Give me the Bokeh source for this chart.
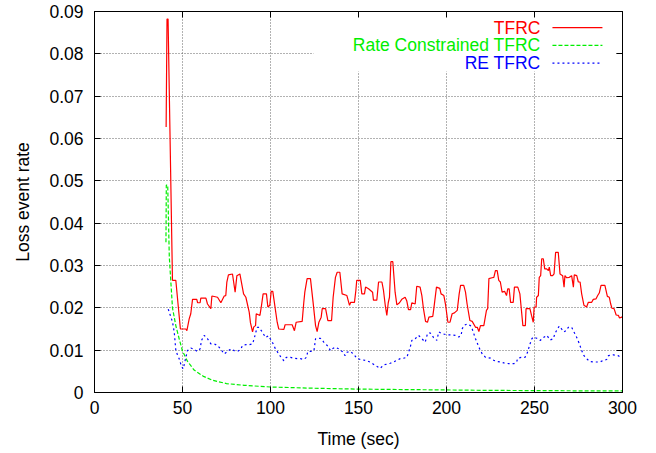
from bokeh.plotting import figure
from bokeh.models import (Range1d, FixedTicker, LinearAxis, Label, BoxAnnotation,
                          CustomJSTickFormatter, ColumnDataSource)
from bokeh.embed import file_html
from bokeh.resources import INLINE

# ---------------- data ----------------
tfrc_t = [40.7, 41.2, 41.8, 44.3, 46.2, 48.8, 51.9, 52.5, 53.8, 54.7, 55.7, 58.1, 58.6, 60.0, 60.4,
          63.3, 64.2, 66.1, 66.7, 69.9, 71.8, 73.7, 74.6, 75.2, 76.1, 78.4, 79.9, 80.9, 82.6, 84.7,
          86.0, 87.9, 88.6, 89.8, 90.5, 91.5, 91.9, 94.0, 94.9, 95.8, 97.7, 98.5, 99.6, 100.4, 101.3,
          103.8, 104.7, 107.6, 108.3, 112.3, 113.6, 114.6, 118.0, 118.9, 119.5, 120.8, 122.7, 124.2,
          125.6, 126.5, 127.5, 128.8, 129.4, 131.3, 132.6, 134.7, 135.6, 136.9, 137.9, 139.4, 140.7,
          143.4, 144.9, 145.6, 147.7, 148.5, 149.0, 151.0, 151.9, 153.4, 154.0, 155.7, 158.0, 158.5,
          160.4, 161.4, 163.3, 164.2, 165.2, 166.1, 166.9, 167.6, 168.4, 169.5, 170.8, 171.8, 173.3,
          174.6, 176.5, 177.4, 178.4, 179.6, 180.3, 182.2, 183.1, 185.0, 186.0, 186.9, 188.1, 189.2,
          190.0, 192.2, 192.8, 194.3, 196.2, 196.9, 198.5, 199.4, 200.8, 202.0, 203.2, 204.5, 206.1,
          207.2, 208.0, 209.8, 210.8, 211.7, 213.3, 214.6, 216.5, 217.5, 218.4, 219.3, 221.2, 222.7,
          223.4, 224.1, 225.9, 226.9, 227.8, 228.8, 229.7, 230.6, 231.6, 233.0, 234.1, 234.8, 235.6,
          236.4, 237.9, 238.6, 240.5, 241.7, 242.4, 243.4, 244.8, 245.2, 247.4, 248.3, 249.3, 249.8,
          250.9, 251.2, 252.2, 252.7, 253.5, 254.1, 255.0, 255.8, 256.9, 257.9, 258.4, 259.2, 260.3,
          261.1, 262.0, 263.5, 264.5, 266.0, 266.8, 267.3, 268.3, 269.8, 271.1, 272.1, 272.6, 274.0,
          274.9, 275.9, 276.8, 278.1, 279.6, 280.6, 282.5, 283.4, 284.9, 285.9, 286.8, 287.8, 290.0,
          291.4, 292.5, 293.3, 294.0, 295.2, 296.4, 297.7, 298.3, 299.6, 300.0]
tfrc_v = [0.0627, 0.0882, 0.0882, 0.0265, 0.0265, 0.0150, 0.0150, 0.0146, 0.0174, 0.0186, 0.0220,
          0.0220, 0.0212, 0.0212, 0.0223, 0.0223, 0.0209, 0.0198, 0.0228, 0.0225, 0.0212, 0.0228,
          0.0229, 0.0261, 0.0278, 0.0280, 0.0237, 0.0276, 0.0280, 0.0233, 0.0225, 0.0190, 0.0165,
          0.0143, 0.0155, 0.0158, 0.0186, 0.0182, 0.0206, 0.0233, 0.0233, 0.0202, 0.0206, 0.0239,
          0.0239, 0.0166, 0.0150, 0.0149, 0.0160, 0.0160, 0.0146, 0.0166, 0.0168, 0.0212, 0.0237,
          0.0269, 0.0269, 0.0213, 0.0158, 0.0144, 0.0166, 0.0178, 0.0198, 0.0198, 0.0170, 0.0170,
          0.0225, 0.0272, 0.0284, 0.0284, 0.0233, 0.0229, 0.0206, 0.0213, 0.0213, 0.0241, 0.0265,
          0.0265, 0.0233, 0.0233, 0.0249, 0.0245, 0.0237, 0.0218, 0.0218, 0.0261, 0.0261, 0.0241,
          0.0206, 0.0182, 0.0212, 0.0225, 0.0309, 0.0309, 0.0237, 0.0207, 0.0212, 0.0220, 0.0225,
          0.0217, 0.0196, 0.0196, 0.0212, 0.0209, 0.0251, 0.0249, 0.0229, 0.0198, 0.0168, 0.0166,
          0.0178, 0.0180, 0.0198, 0.0249, 0.0246, 0.0233, 0.0229, 0.0209, 0.0166, 0.0166, 0.0186,
          0.0188, 0.0194, 0.0233, 0.0253, 0.0253, 0.0237, 0.0209, 0.0170, 0.0168, 0.0154, 0.0154,
          0.0144, 0.0158, 0.0158, 0.0194, 0.0198, 0.0269, 0.0271, 0.0272, 0.0288, 0.0288, 0.0265,
          0.0261, 0.0237, 0.0239, 0.0229, 0.0245, 0.0245, 0.0213, 0.0213, 0.0249, 0.0249, 0.0233,
          0.0202, 0.0158, 0.0158, 0.0198, 0.0198, 0.0182, 0.0166, 0.0202, 0.0202, 0.0225, 0.0229,
          0.0272, 0.0276, 0.0316, 0.0316, 0.0292, 0.0292, 0.0288, 0.0296, 0.0276, 0.0276, 0.0280,
          0.0331, 0.0331, 0.0280, 0.0276, 0.0249, 0.0276, 0.0271, 0.0272, 0.0276, 0.0249, 0.0278,
          0.0276, 0.0261, 0.0261, 0.0233, 0.0206, 0.0202, 0.0213, 0.0213, 0.0220, 0.0221, 0.0229,
          0.0235, 0.0253, 0.0253, 0.0227, 0.0225, 0.0209, 0.0199, 0.0198, 0.0183, 0.0182, 0.0176,
          0.0178, 0.0180]

rc_t = [40.6, 40.8, 41.6, 42.5, 43.4, 44.3, 46.2, 48.1, 50.0, 52.8, 56.6, 62.0, 67.0, 75.0, 85.0,
        100.0, 125.0, 150.0, 175.0, 200.0, 225.0, 250.0, 275.0, 300.0]
rc_v = [0.0355, 0.0490, 0.0490, 0.0320, 0.0260, 0.0200, 0.0158, 0.0127, 0.0098, 0.0074, 0.0053,
        0.0038, 0.0029, 0.0021, 0.0017, 0.0013, 0.0010, 0.0008, 0.0007, 0.0006, 0.0005, 0.00045,
        0.0004, 0.00037]

re_t = [41.9, 44.3, 45.3, 46.2, 47.2, 48.1, 49.4, 50.4, 51.3, 52.8, 54.7, 56.6, 58.5, 60.0, 60.8,
        62.3, 64.2, 66.1, 68.0, 69.9, 71.8, 73.7, 75.6, 77.5, 79.4, 81.3, 83.1, 84.1, 86.0, 87.9,
        89.8, 90.7, 91.7, 92.5, 93.4, 95.3, 97.2, 98.8, 100.4, 101.5, 102.8, 104.7, 106.0, 107.6,
        109.0, 111.4, 113.3, 115.2, 117.0, 118.9, 120.4, 121.2, 123.7, 124.7, 125.6, 128.4, 130.3,
        132.2, 134.1, 135.0, 136.9, 138.8, 140.7, 142.4, 143.4, 145.3, 147.2, 149.0, 151.0, 153.8,
        156.6, 159.5, 162.3, 164.2, 166.1, 168.0, 169.9, 171.8, 173.7, 175.6, 177.5, 178.4, 179.4,
        180.3, 182.2, 184.1, 186.0, 187.9, 189.2, 190.7, 192.6, 193.5, 194.5, 195.6, 197.5, 200.4,
        202.3, 205.1, 207.0, 208.3, 208.9, 209.8, 211.7, 213.6, 214.6, 216.5, 218.4, 220.3, 222.2,
        225.0, 226.9, 228.8, 230.7, 232.6, 235.4, 238.3, 239.8, 240.5, 242.4, 244.6, 245.7, 246.6,
        247.5, 248.5, 249.4, 251.3, 253.2, 255.1, 257.0, 258.9, 260.7, 261.6, 263.0, 264.1, 265.4,
        266.7, 268.3, 269.2, 271.1, 272.4, 274.0, 275.5, 276.8, 278.1, 279.6, 281.5, 284.4, 287.2,
        289.1, 291.0, 292.0, 294.8, 297.6, 299.6]
re_v = [0.0197, 0.0167, 0.0143, 0.0100, 0.0088, 0.0080, 0.0062, 0.0056, 0.0072, 0.0099, 0.0105,
        0.0102, 0.0097, 0.0103, 0.0123, 0.0135, 0.0127, 0.0115, 0.0115, 0.0111, 0.0102, 0.0091,
        0.0097, 0.0103, 0.0099, 0.0097, 0.0102, 0.0111, 0.0113, 0.0113, 0.0115, 0.0127, 0.0143,
        0.0154, 0.0154, 0.0143, 0.0130, 0.0134, 0.0123, 0.0115, 0.0103, 0.0091, 0.0083, 0.0075,
        0.0083, 0.0083, 0.0081, 0.0080, 0.0080, 0.0078, 0.0083, 0.0097, 0.0097, 0.0099, 0.0127,
        0.0128, 0.0119, 0.0111, 0.0099, 0.0103, 0.0107, 0.0103, 0.0097, 0.0087, 0.0095, 0.0097,
        0.0091, 0.0081, 0.0078, 0.0076, 0.0072, 0.0064, 0.0057, 0.0065, 0.0067, 0.0069, 0.0072,
        0.0076, 0.0080, 0.0081, 0.0083, 0.0095, 0.0107, 0.0123, 0.0127, 0.0135, 0.0127, 0.0119,
        0.0139, 0.0141, 0.0130, 0.0127, 0.0123, 0.0143, 0.0139, 0.0136, 0.0136, 0.0135, 0.0131,
        0.0135, 0.0150, 0.0158, 0.0162, 0.0158, 0.0150, 0.0127, 0.0107, 0.0091, 0.0083, 0.0081,
        0.0076, 0.0073, 0.0072, 0.0070, 0.0068, 0.0068, 0.0072, 0.0081, 0.0083, 0.0083, 0.0091,
        0.0103, 0.0115, 0.0127, 0.0131, 0.0128, 0.0123, 0.0130, 0.0135, 0.0124, 0.0127, 0.0139,
        0.0150, 0.0157, 0.0150, 0.0143, 0.0147, 0.0154, 0.0154, 0.0143, 0.0130, 0.0115, 0.0099,
        0.0087, 0.0080, 0.0073, 0.0072, 0.0072, 0.0076, 0.0078, 0.0087, 0.0089, 0.0087, 0.0081]

series_names = ["TFRC", "Rate Constrained TFRC", "RE TFRC"]
x_ticks = [0, 50, 100, 150, 200, 250, 300]
y_ticks = [0, 0.01, 0.02, 0.03, 0.04, 0.05, 0.06, 0.07, 0.08, 0.09]

# ---------------- styling ----------------
FONT = "Liberation Sans"
FS = "17.5px"
colors = ["#ff0000", "#00ee00", "#0000ff"]
dashes = ["solid", "4 2", "2 3"]

p = figure(width=656, height=453, output_backend="svg", toolbar_location=None,
           x_range=Range1d(0, 300), y_range=Range1d(0, 0.09),
           min_border_left=94, min_border_right=34, min_border_top=11, min_border_bottom=61)
p.background_fill_color = "white"
p.border_fill_color = "white"
p.outline_line_color = "black"
p.outline_line_width = 1
p.outline_line_alpha = 1

# axes
p.xaxis.ticker = FixedTicker(ticks=x_ticks)
p.yaxis.ticker = FixedTicker(ticks=y_ticks)
p.yaxis.formatter = CustomJSTickFormatter(code="return tick == 0 ? '0' : tick.toFixed(2);")
for ax in [p.xaxis[0], p.yaxis[0]]:
    ax.major_tick_in = 6
    ax.major_tick_out = 0
    ax.minor_tick_line_color = None
    ax.axis_line_color = "black"
    ax.major_tick_line_color = "black"
    ax.major_label_text_font = FONT
    ax.major_label_text_font_size = FS
    ax.major_label_text_color = "black"
    ax.axis_label_text_font = FONT
    ax.axis_label_text_font_size = FS
    ax.axis_label_text_font_style = "normal"
    ax.axis_label_text_color = "black"
p.xaxis.axis_label = "Time (sec)"
p.yaxis.axis_label = "Loss event rate"
p.xaxis.major_label_standoff = 8
p.yaxis.major_label_standoff = 11
p.xaxis.axis_label_standoff = 12
p.yaxis.axis_label_standoff = 13

# mirrored tick marks (top/right), labels not drawn
top = LinearAxis(ticker=FixedTicker(ticks=x_ticks), major_tick_in=6, major_tick_out=0,
                 minor_tick_line_color=None, major_label_text_font_size="1px",
                 major_label_text_color=None, major_label_standoff=0, axis_line_color="black")
right = LinearAxis(ticker=FixedTicker(ticks=y_ticks), major_tick_in=6, major_tick_out=0,
                   minor_tick_line_color=None, major_label_text_font_size="1px",
                   major_label_text_color=None, major_label_standoff=0, axis_line_color="black")
p.add_layout(top, "above")
p.add_layout(right, "right")

# grid
for g in [p.xgrid[0], p.ygrid[0]]:
    g.grid_line_color = "#555555"
    g.grid_line_dash = "1 2"
    g.grid_line_width = 1
    g.grid_line_alpha = 0.9
p.xgrid.ticker = FixedTicker(ticks=x_ticks)
p.ygrid.ticker = FixedTicker(ticks=y_ticks)

# data lines
data = [(tfrc_t, tfrc_v), (rc_t, rc_v), (re_t, re_v)]
order = [1, 2, 0]
for i in order:
    t, v = data[i]
    src = ColumnDataSource(dict(t=t, v=v))
    p.line("t", "v", source=src, line_color=colors[i], line_width=1.2, line_dash=dashes[i])

# key (gnuplot style: text right-aligned, sample to the right)
p.add_layout(BoxAnnotation(left=124.4, right=295.8, bottom=0.0758, top=0.0885,
                           fill_color="white", fill_alpha=1, line_alpha=0))
key_y = [0.0862, 0.0820, 0.0778]
for i, name in enumerate(series_names):
    p.add_layout(Label(x=253.4, y=key_y[i], text=name, text_align="right",
                       text_baseline="middle", text_color=colors[i], text_font=FONT,
                       text_font_size=FS))
    p.line([260.2, 288.6], [key_y[i], key_y[i]], line_color=colors[i], line_width=1.2,
           line_dash=dashes[i], level="overlay")

open("out.html", "w").write(file_html(p, INLINE))
